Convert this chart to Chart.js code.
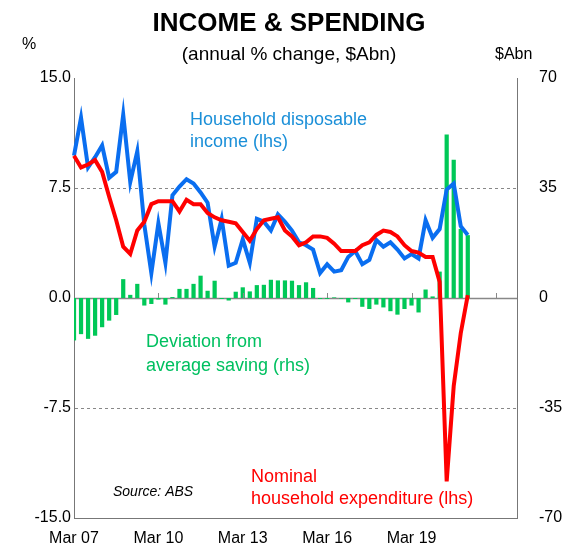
<!DOCTYPE html>
<html>
<head>
<meta charset="utf-8">
<script src="https://cdn.jsdelivr.net/npm/chart.js@4"></script>
<style>
    body { margin: 0; background: #fff; }
    #wrap { width: 579px; height: 558px; }
</style>
</head>
<body>
<div id="wrap"><canvas id="myChart" width="579" height="558"></canvas></div>
<script>
// quarterly, Mar 07 .. Dec 22 (axis), data to Mar 21
const quarters = [];
for (let y = 7; y <= 22; y++) {
    ["Mar", "Jun", "Sep", "Dec"].forEach((m) => quarters.push(m + " " + String(y).padStart(2, "0")));
}

const incomeLhs = [9.7, 12.3, 8.9, 9.6, 10.4, 8.2, 8.6, 12.5, 7.9, 10.0, 5.0, 1.7, 5.1, 2.4, 7.0, 7.6,
    8.1, 7.8, 7.2, 6.5, 3.5, 5.4, 2.2, 2.4, 4.0, 2.4, 5.4, 5.2, 4.6, 5.7, 5.2, 4.6,
    3.8, 3.6, 3.3, 1.7, 2.3, 1.8, 1.9, 2.8, 3.2, 2.3, 2.6, 3.95, 3.5, 3.8, 3.3, 2.7,
    3.0, 2.7, 5.3, 4.1, 4.7, 7.4, 7.8, 4.9, 4.3];

const spendingLhs = [9.7, 8.9, 9.1, 9.4, 8.6, 6.9, 5.3, 3.5, 3.0, 4.6, 5.2, 6.4, 6.6, 6.6, 6.6, 5.9,
    6.7, 6.4, 6.4, 5.8, 5.5, 5.3, 5.2, 5.1, 4.5, 3.9, 4.7, 5.3, 5.4, 5.5, 4.6, 4.2,
    3.6, 3.8, 4.2, 4.2, 4.1, 3.7, 3.2, 3.2, 3.2, 3.6, 3.8, 4.3, 4.6, 4.5, 4.2, 3.6,
    3.2, 3.1, 2.8, 2.8, 1.1, -12.5, -6.0, -2.4, 0.2];

const savingRhs = [-13.5, -11.5, -13, -12, -9.3, -7.2, -5.4, 6, 1, 4.5, -2.4, -1.9, -0.5, -2.1, 0.3, 2.9,
    2.9, 4.5, 7.1, 2.3, 5.5, -0.3, -0.8, 2, 3.4, 2.1, 4.1, 4.2, 5.8, 5.6, 5.6, 5.5,
    4.1, 5, 3.2, -0.3, -0.3, 0.2, -0.2, -1.4, -0.3, -2.8, -3.5, -2.1, -3, -4.2, -5.3, -3.5,
    -2.4, -4.6, 2.7, 0.5, 8.4, 52, 44, 22, 20];

const lhsTicks = [-15, -7.5, 0, 7.5, 15];
const rhsTicks = [-70, -35, 0, 35, 70];

const FONT = "'Liberation Sans', Arial, sans-serif";

const zeroLinePlugin = {
    id: "zeroLine",
    beforeDatasetsDraw(chart) {
        const ctx = chart.ctx;
        const area = chart.chartArea;
        const y0 = Math.round(chart.scales.y.getPixelForValue(0)) + 0.5;
        ctx.save();
        ctx.strokeStyle = "#888";
        ctx.lineWidth = 1.5;
        ctx.beginPath();
        ctx.moveTo(area.left, y0);
        ctx.lineTo(area.right, y0);
        ctx.stroke();
        ctx.restore();
    },
};

const labelsPlugin = {
    id: "labels",
    afterDraw(chart) {
        const ctx = chart.ctx;
        ctx.save();
        ctx.textBaseline = "middle";
        ctx.fillStyle = "#000";
        ctx.textAlign = "center";
        ctx.font = "bold 26px " + FONT;
        ctx.fillText("INCOME & SPENDING", 289, 24);
        ctx.font = "19px " + FONT;
        ctx.fillText("(annual % change, $Abn)", 289, 55);
        ctx.textAlign = "left";
        ctx.font = "16px " + FONT;
        ctx.fillText("%", 22, 45);
        ctx.fillText("$Abn", 495, 55);

        ctx.font = "18px " + FONT;
        ctx.fillStyle = "#1a8fd8";
        ctx.fillText("Household disposable", 190, 120);
        ctx.fillText("income (lhs)", 190, 142);
        ctx.fillStyle = "#00c060";
        ctx.fillText("Deviation from", 146, 342);
        ctx.fillText("average saving (rhs)", 146, 366);
        ctx.fillStyle = "#ff0000";
        ctx.fillText("Nominal", 251, 477);
        ctx.fillText("household expenditure (lhs)", 251, 499);
        ctx.fillStyle = "#000";
        ctx.font = "italic 14px " + FONT;
        ctx.fillText("Source: ABS", 113, 492);

        // small tick marks on the zero line
        const x = chart.scales.x;
        const y0 = chart.scales.y.getPixelForValue(0);
        ctx.strokeStyle = "#888";
        ctx.lineWidth = 1;
        for (let i = 12; i < quarters.length; i += 12) {
            const px = Math.round(x.getPixelForValue(i)) + 0.5;
            ctx.beginPath();
            ctx.moveTo(px, y0);
            ctx.lineTo(px, y0 - 5);
            ctx.stroke();
        }
        ctx.restore();
    },
};

const config = {
    data: {
        labels: quarters,
        datasets: [
            {
                type: "line",
                data: spendingLhs,
                yAxisID: "y",
                borderColor: "#ff0000",
                borderWidth: 4,
                pointRadius: 0,
                tension: 0,
                order: 1,
            },
            {
                type: "line",
                data: incomeLhs,
                yAxisID: "y",
                borderColor: "#0a6ef0",
                borderWidth: 4,
                pointRadius: 0,
                tension: 0,
                order: 2,
            },
            {
                type: "bar",
                data: savingRhs,
                yAxisID: "y2",
                backgroundColor: "#00c857",
                categoryPercentage: 1,
                barPercentage: 0.6,
                order: 3,
            },
        ],
    },
    options: {
        responsive: false,
        animation: false,
        layout: { padding: { top: 78, left: 0, right: 0, bottom: 0 } },
        plugins: { legend: { display: false }, tooltip: { enabled: false } },
        scales: {
            x: {
                offset: false,
                grid: { display: false },
                border: { color: "#777" },
                ticks: {
                    autoSkip: false,
                    maxRotation: 0,
                    color: "#000",
                    font: { family: FONT, size: 16 },
                    callback: (v, i) => (i % 12 === 0 && i <= 48 ? quarters[i] : null),
                },
                afterFit: (s) => { s.height = 40; },
            },
            y: {
                position: "left",
                min: -15,
                max: 15,
                afterBuildTicks: (s) => { s.ticks = lhsTicks.map((v) => ({ value: v })); },
                ticks: {
                    color: "#000",
                    font: { family: FONT, size: 16 },
                    callback: (v) => v.toFixed(1),
                },
                border: { color: "#777", dash: [3, 3] },
                grid: {
                    drawTicks: false,
                    color: (c) => (Math.abs(c.tick.value) === 7.5 ? "#888" : "rgba(0,0,0,0)"),
                },
                afterFit: (s) => { s.width = 74; },
            },
            y2: {
                position: "right",
                min: -70,
                max: 70,
                afterBuildTicks: (s) => { s.ticks = rhsTicks.map((v) => ({ value: v })); },
                ticks: { color: "#000", font: { family: FONT, size: 16 }, padding: 14 },
                border: { color: "#777" },
                grid: { display: false },
                afterFit: (s) => { s.width = 62; },
            },
        },
    },
    plugins: [zeroLinePlugin, labelsPlugin],
};

Chart.defaults.font.family = FONT;

const myChart = new Chart(document.getElementById("myChart"), config);
</script>
</body>
</html>
